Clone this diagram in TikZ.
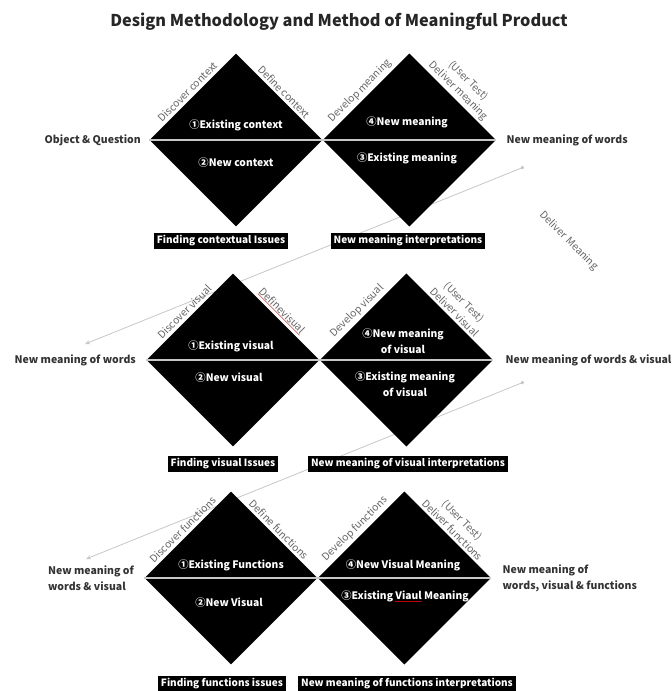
\documentclass[tikz,border=0pt]{standalone}
\usepackage{fontspec}
\setmainfont{Noto Sans CJK JP}
\usepackage{xcolor}
\usepackage{tikz}
\usetikzlibrary{shapes.geometric,positioning,arrows.meta}

\tikzset{
	headline/.style={font=\bfseries\fontsize{16.3}{19}\selectfont, text=black!85},
	diam/.style={diamond, aspect=1, fill=black, inner sep=0pt, minimum size=173pt},
	midline/.style={draw=black!22, line width=1.6pt},
	edgelab/.style={text=black!60, font=\fontsize{10.3}{14}\selectfont, inner sep=2.5pt, align=center},
	inlab/.style={text=white, font=\bfseries\fontsize{10.3}{16}\selectfont, align=center},
	sidelab/.style={text=black!80, font=\bfseries\fontsize{10.5}{16}\selectfont, align=left},
	issuebox/.style={fill=black, text=white, font=\bfseries\fontsize{10}{11}\selectfont, inner xsep=3pt, inner ysep=3pt},
	feedback/.style={draw=black!22, line width=0.8pt, {Circle[length=3.5pt]}-{Stealth[length=5pt,width=4pt]}}
}

\begin{document}
\begin{tikzpicture}[x=1pt,y=-1pt]
	\newcommand\rA{140}
	\newcommand\rB{360}
	\newcommand\rC{578}
	\newcommand\typo[2]{{\color{red!75!black}\underline{\textcolor{#1}{#2}}}}

	\useasboundingbox (0,0) rectangle (672,691);

	\node[headline] (ttl) at (339,22) {Design Methodology and Method of Meaningful Product};

	\coordinate (fb1s) at (524,167);
	\coordinate (fb1e) at (85,344);
	\coordinate (fb2s) at (524,382);
	\coordinate (fb2e) at (86,559);
	\draw[feedback] (fb1s) -- (fb1e);
	\draw[feedback] (fb2s) -- (fb2e);

	\node[edgelab, rotate=-45] (dlv) at (569,241) {Deliver Meaning};

	% words
	\node[diam] (ctx) at (236,\rA) {};
	\node[diam, right=0pt of ctx] (mng) {};
	\draw[midline] (ctx.west) -- (mng.east);

	\path (ctx.west) -- (ctx.north) node[edgelab, midway, sloped, above] (ctxa) {Discover context};
	\path (ctx.north) -- (ctx.east) node[edgelab, midway, sloped, above] (ctxb) {Define context};
	\path (mng.west) -- (mng.north) node[edgelab, midway, sloped, above] (mnga) {Develop meaning};
	\path (mng.north) -- (mng.east) node[edgelab, midway, sloped, above] (mngb) {(User Test)\\Deliver meaning};

	\node[inlab] (ctx1) at (236,\rA-15) {①Existing context};
	\node[inlab] (ctx2) at (236,\rA+23) {②New context};
	\node[inlab] (mng4) at (407,\rA-18) {④New meaning};
	\node[inlab] (mng3) at (407,\rA+18) {③Existing meaning};

	\node[sidelab, left=5pt of ctx.west] (objq) {Object \& Question};
	\node[sidelab, right=7pt of mng.east] (nmw1) {New meaning of words};

	\node[issuebox] (ctxi) at (221,241) {Finding contextual Issues};
	\node[issuebox] (mngi) at (408,241) {New meaning interpretations};

	% visual
	\node[diam] (vis) at (233,\rB) {};
	\node[diam, right=0pt of vis] (vsm) {};
	\draw[midline] (vis.west) -- (vsm.east);

	\path (vis.west) -- (vis.north) node[edgelab, midway, sloped, above] (visa) {Discover visual};
	\path (vis.north) -- (vis.east) node[edgelab, midway, sloped, above] (visb) {\typo{black!60}{Definevisual}};
	\path (vsm.west) -- (vsm.north) node[edgelab, midway, sloped, above] (vsma) {Develop visual};
	\path (vsm.north) -- (vsm.east) node[edgelab, midway, sloped, above] (vsmb) {(User Test)\\Deliver visual};

	\node[inlab] (vis1) at (231,\rB-14) {①Existing visual};
	\node[inlab] (vis2) at (229,\rB+18) {②New visual};
	\node[inlab] (vsm4) at (403,\rB-19) {④New meaning\\of visual};
	\node[inlab] (vsm3) at (405,\rB+24) {③Existing meaning\\of visual};

	\node[sidelab, left=7pt of vis.west] (nmw2) {New meaning of words};
	\node[sidelab, right=9pt of vsm.east] (nmwv2) {New meaning of words \& visual};

	\node[issuebox] (visi) at (223,464) {Finding visual Issues};
	\node[issuebox] (vsmi) at (408,464) {New meaning of visual interpretations};

	% functions
	\node[diam] (fun) at (231,\rC) {};
	\node[diam, right=0pt of fun] (fnm) {};
	\draw[midline] (fun.west) -- (fnm.east);

	\path (fun.west) -- (fun.north) node[edgelab, midway, sloped, above] (funa) {Discover functions};
	\path (fun.north) -- (fun.east) node[edgelab, midway, sloped, above] (funb) {Define functions};
	\path (fnm.west) -- (fnm.north) node[edgelab, midway, sloped, above] (fnma) {Develop functions};
	\path (fnm.north) -- (fnm.east) node[edgelab, midway, sloped, above] (fnmb) {(User Test)\\Deliver functions};

	\node[inlab] (fun1) at (231,\rC-13) {①Existing Functions};
	\node[inlab] (fun2) at (229,\rC+25) {②New Visual};
	\node[inlab] (fnm4) at (403,\rC-13) {④New Visual Meaning};
	\node[inlab] (fnm3) at (405,\rC+18) {③Existing \typo{white}{Viaul} Meaning};

	\node[sidelab, left=7pt of fun.west] (nmwv3) {New meaning of\\words \& visual};
	\node[sidelab, right=8pt of fnm.east] (nmwvf3) {New meaning of\\words, visual \& functions};

	\node[issuebox] (funi) at (222,684) {Finding functions issues};
	\node[issuebox] (fnmi) at (407,684) {New meaning of functions interpretations};
\end{tikzpicture}
\end{document}
